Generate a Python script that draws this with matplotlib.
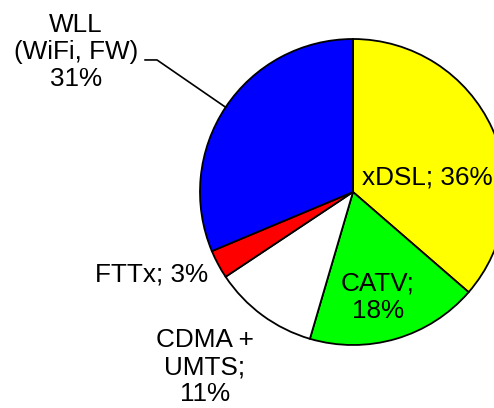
import numpy as np
import matplotlib
matplotlib.use("Agg")
import matplotlib.pyplot as plt

# --- data ---
labels = ["xDSL; 36%", "CATV;\n18%", "CDMA +\nUMTS;\n11%", "FTTx; 3%", "WLL\n(WiFi, FW)\n31%"]
shares = [36, 18, 11, 3, 31]
colors = ["#FFFF00", "#00FF00", "#FFFFFF", "#FF0000", "#0000FF"]

# label positions (data coords, pie radius = 1)
label_pos = [(0.484, 0.098), (0.163, -0.686), (-0.967, -1.144), (-1.314, -0.536), (-1.810, 0.915)]

plt.rcParams['font.family'] = ['Liberation Sans', 'DejaVu Sans']

fig = plt.figure(figsize=(4.94, 4.08), dpi=100)
cx, cy, r = 353, 192, 153
ax = fig.add_axes([(cx - r) / 494, (408 - cy - r) / 408, 2 * r / 494, 2 * r / 408])
ax.pie(shares, colors=colors, startangle=90, counterclock=False, radius=1,
       wedgeprops=dict(edgecolor="black", linewidth=1.3))
ax.set_xlim(-1, 1)
ax.set_ylim(-1, 1)
ax.set_aspect("equal")
ax.axis("off")

for lab, (x, y) in zip(labels, label_pos):
    ax.text(x, y, lab, ha="center", va="center", fontsize=18.8, linespacing=1.17, clip_on=False)

# leader line for WLL from mid-angle of its wedge
total = sum(shares)
mid = (sum(shares[:4]) + shares[4] / 2) / total * 2 * np.pi
ex, ey = np.sin(mid), np.cos(mid)
ax.plot([-1.359, -1.281, ex], [0.863, 0.863, ey], color="black", lw=1.2, clip_on=False)

fig.savefig("out.png", dpi=100)
